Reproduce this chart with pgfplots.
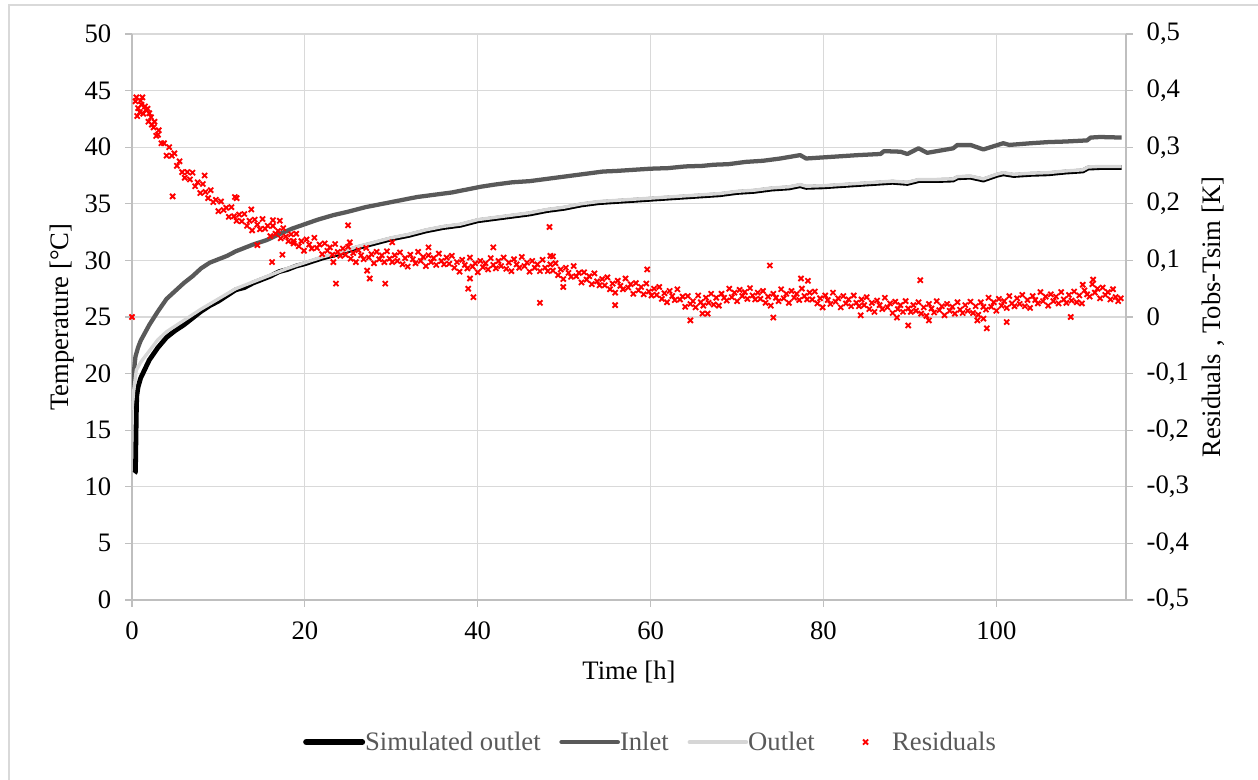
\documentclass[border=0pt]{standalone}
\usepackage{fontspec}
\setmainfont{Liberation Serif}
\usepackage{pgfplots}
\pgfplotsset{compat=1.18}
\definecolor{gridc}{HTML}{D9D9D9}
\definecolor{axc}{HTML}{BFBFBF}
\definecolor{inletc}{HTML}{595959}
\definecolor{outletc}{HTML}{D6D6D6}
\definecolor{legtext}{HTML}{595959}
\newcommand{\fs}{\fontsize{20}{23}\selectfont}
\pgfplotsset{
  linelegend/.style={legend image code/.code={\draw[##1, line cap=round] (0pt,0pt) -- (42pt,0pt);}},
  marklegend/.style={legend image code/.code={\path[draw=none, fill=none] (0pt,-1pt) rectangle (44pt,1pt);\draw[##1] plot coordinates {(24pt,0pt)};}},
}
\begin{document}
\begin{tikzpicture}
\useasboundingbox (-99pt,-135pt) rectangle (844.5pt,450pt);
\draw[gridc, line width=1pt] (-92.25pt,-135pt) -- (-92.25pt,446.25pt) -- (844.5pt,446.25pt);
\begin{axis}[at={(0,0)}, anchor=south west, scale only axis,
  width=745.5pt, height=424.5pt,
  xmin=0, xmax=115, ymin=0, ymax=50,
  xtick={0,20,40,60,80,100}, ytick={0,5,10,15,20,25,30,35,40,45,50},
  axis x line*=bottom, axis y line*=left,
  axis line style={axc, line width=0.9pt, -},
  tick align=outside, major tick length=5pt,
  tick style={axc, line width=0.9pt},
  grid=major, major grid style={gridc, line width=0.9pt},
  tick label style={font=\fs},
  xticklabel style={yshift=-8pt},
  yticklabel style={xshift=-7pt},
  /pgf/number format/assume math mode=true,
  label style={font=\fs},
  xlabel={Time [h]}, ylabel={Temperature [°C]},
  xlabel style={at={(axis description cs:0.5,-0.128)}, anchor=center},
  ylabel style={at={(axis description cs:-0.0704,0.5)}, anchor=center},
]
\addplot[black, line width=3.6pt, line join=round] table {
0.30 11.2
0.40 11.3
0.50 16.5
0.55 18.0
0.70 18.8
1.0 19.6
1.5 20.4
2.0 21.2
3.0 22.3
4.0 23.2
5.0 23.8
6.0 24.3
7.0 24.9
8.0 25.5
9.0 26.0
10.0 26.4
11.0 26.9
12.0 27.4
13.0 27.6
14.0 28.0
15.0 28.3
16.0 28.6
17.0 29.0
18.0 29.2
19.0 29.5
20.0 29.7
22.0 30.2
24.0 30.6
26.0 31.1
28.0 31.5
30.0 31.9
32.0 32.2
34.0 32.6
36.0 32.9
38.0 33.1
40.0 33.5
42.0 33.7
44.0 33.9
46.0 34.1
48.0 34.4
50.0 34.6
52.0 34.9
54.0 35.1
56.0 35.2
58.0 35.3
60.0 35.4
62.0 35.5
64.0 35.6
66.0 35.7
68.0 35.8
70.0 36.0
72.0 36.1
74.0 36.3
76.0 36.4
77.3 36.6
78.0 36.45
80.0 36.5
82.0 36.6
84.0 36.7
86.0 36.8
88.0 36.9
89.7 36.8
91.0 37.05
93.0 37.05
95.0 37.1
95.5 37.3
97.0 37.35
98.5 37.1
100.0 37.5
100.8 37.65
102.0 37.5
104.0 37.6
106.0 37.65
108.0 37.8
110.0 37.9
110.6 38.15
112.0 38.2
114.5 38.2
};
\addplot[inletc, line width=3.2pt, line join=round] table {
0.0 17.6
0.2 20.0
0.4 21.5
0.7 22.3
1.0 22.9
1.5 23.6
2.0 24.3
3.0 25.5
4.0 26.6
5.0 27.3
6.0 28.0
7.0 28.6
8.0 29.3
9.0 29.8
10.0 30.1
11.0 30.4
12.0 30.8
13.0 31.1
14.0 31.4
15.6 31.8
17.0 32.3
18.5 32.8
20.0 33.2
21.5 33.6
23.3 34.0
25.0 34.3
27.0 34.7
29.0 35.0
31.0 35.3
33.0 35.6
35.0 35.8
37.0 36.0
39.0 36.3
40.3 36.5
42.0 36.7
44.0 36.9
46.0 37.0
48.0 37.2
50.0 37.4
52.0 37.6
54.5 37.85
56.0 37.9
58.0 38.0
60.0 38.1
62.0 38.15
64.0 38.3
66.0 38.35
67.3 38.45
69.0 38.5
71.0 38.7
73.0 38.8
75.0 39.0
77.3 39.3
78.0 39.0
80.0 39.1
82.0 39.2
84.0 39.3
86.6 39.4
87.0 39.65
88.9 39.6
89.7 39.4
91.0 39.9
92.0 39.5
95.0 39.9
95.5 40.2
97.0 40.2
98.5 39.8
100.8 40.35
101.5 40.2
104.0 40.35
106.0 40.45
108.0 40.5
110.5 40.6
110.9 40.85
112.0 40.9
114.5 40.85
};
\addplot[outletc, line width=2.5pt, line join=round] table {
0.0 16.8
0.2 18.5
0.5 20.3
1.0 21.0
2.0 22.0
3.0 23.0
4.0 23.7
5.0 24.2
6.0 24.7
7.0 25.2
8.0 25.7
10.0 26.6
12.0 27.5
14.0 28.1
16.0 28.7
18.0 29.3
20.0 29.8
22.0 30.3
24.0 30.7
26.0 31.2
28.0 31.6
30.0 32.0
32.0 32.3
34.0 32.7
36.0 33.0
38.0 33.2
40.0 33.6
42.0 33.8
44.0 34.0
46.0 34.2
48.0 34.5
50.0 34.7
52.0 35.0
54.0 35.2
56.0 35.3
58.0 35.4
60.0 35.5
62.0 35.6
64.0 35.7
66.0 35.8
68.0 35.9
70.0 36.1
72.0 36.2
74.0 36.4
76.0 36.5
77.3 36.7
78.0 36.55
80.0 36.6
82.0 36.7
84.0 36.8
86.0 36.9
88.0 37.0
89.7 36.9
91.0 37.15
93.0 37.15
95.0 37.2
95.5 37.4
97.0 37.45
98.5 37.2
100.0 37.6
100.8 37.75
102.0 37.6
104.0 37.7
106.0 37.75
108.0 37.9
110.0 38.0
110.6 38.25
112.0 38.3
114.5 38.3
};
\end{axis}
\begin{axis}[at={(0,0)}, anchor=south west, scale only axis,
  width=745.5pt, height=424.5pt,
  xmin=0, xmax=115, ymin=-0.5, ymax=0.5,
  axis x line=none, axis y line*=right,
  axis line style={axc, line width=0.9pt, -},
  tick align=outside, major tick length=5pt,
  tick style={axc, line width=0.9pt},
  ytick={-0.5,-0.4,-0.3,-0.2,-0.1,0,0.1,0.2,0.3,0.4,0.5},
  scaled y ticks=false,
  yticklabel style={xshift=7pt, /pgf/number format/.cd, fixed, precision=1, use comma, assume math mode=true},
  tick label style={font=\fs},
  label style={font=\fs},
  ylabel={Residuals , Tobs-Tsim [K]},
  ylabel style={at={(axis description cs:1.0875,0.5)}, anchor=center},
  legend columns=4,
  legend style={at={(0.522,-0.251)}, anchor=center, draw=none, fill=none,
    font=\fs\color{legtext}, /tikz/every even column/.append style={column sep=12pt},
    /tikz/every odd column/.append style={column sep=-2pt}},
  linelegend,
]
\addlegendimage{black, line width=4.5pt}
\addlegendentry{Simulated outlet}
\addlegendimage{inletc, line width=3.5pt}
\addlegendentry{Inlet}
\addlegendimage{outletc, line width=3.5pt}
\addlegendentry{Outlet}
\addplot[only marks, mark=x, mark size=2.7pt, red, line width=1.4pt, marklegend] table {
0.4 0.381
0.7 0.369
1.0 0.382
1.3 0.359
1.6 0.366
1.9 0.345
2.2 0.353
2.5 0.335
2.8 0.320
3.1 0.330
3.4 0.307
3.7 0.307
4.0 0.285
4.3 0.300
4.6 0.285
4.9 0.289
5.2 0.267
5.5 0.275
5.8 0.256
6.1 0.246
6.4 0.256
6.7 0.243
7.0 0.255
7.3 0.231
7.6 0.238
7.9 0.219
8.2 0.235
8.5 0.221
8.8 0.210
9.1 0.224
9.4 0.203
9.7 0.207
10.0 0.187
10.3 0.204
10.6 0.189
10.9 0.193
11.2 0.177
11.5 0.194
11.8 0.178
12.1 0.170
12.4 0.181
12.7 0.169
13.0 0.182
13.3 0.161
13.6 0.170
13.9 0.153
14.2 0.172
14.5 0.163
14.8 0.155
15.1 0.173
15.4 0.156
15.7 0.161
16.0 0.143
16.3 0.161
16.6 0.147
16.9 0.152
17.2 0.139
17.5 0.157
17.8 0.142
18.1 0.134
18.4 0.146
18.7 0.134
19.0 0.147
19.3 0.125
19.6 0.134
19.9 0.117
20.2 0.137
20.5 0.128
20.8 0.121
21.1 0.140
21.4 0.122
21.7 0.128
22.0 0.111
22.3 0.130
22.6 0.117
22.9 0.123
23.2 0.110
23.5 0.129
23.8 0.115
24.1 0.108
24.4 0.121
24.7 0.110
25.0 0.124
25.3 0.103
25.6 0.113
25.9 0.097
26.2 0.118
26.5 0.109
26.8 0.102
27.1 0.122
27.4 0.105
27.7 0.111
28.0 0.095
28.3 0.115
28.6 0.102
28.9 0.109
29.2 0.097
29.5 0.116
29.8 0.103
30.1 0.097
30.4 0.109
30.7 0.099
31.0 0.114
31.3 0.093
31.6 0.104
31.9 0.089
32.2 0.110
32.5 0.102
32.8 0.095
33.1 0.115
33.4 0.099
33.7 0.106
34.0 0.090
34.3 0.109
34.6 0.097
34.9 0.104
35.2 0.092
35.5 0.112
35.8 0.099
36.1 0.093
36.4 0.105
36.7 0.094
37.0 0.108
37.3 0.087
37.6 0.097
37.9 0.080
38.2 0.101
38.5 0.092
38.8 0.086
39.1 0.105
39.4 0.089
39.7 0.095
40.0 0.079
40.3 0.099
40.6 0.088
40.9 0.095
41.2 0.084
41.5 0.104
41.8 0.092
42.1 0.086
42.4 0.099
42.7 0.090
43.0 0.105
43.3 0.085
43.6 0.096
43.9 0.081
44.2 0.102
44.5 0.093
44.8 0.087
45.1 0.106
45.4 0.090
45.7 0.096
46.0 0.080
46.3 0.099
46.6 0.087
46.9 0.093
47.2 0.081
47.5 0.101
47.8 0.087
48.1 0.081
48.4 0.093
48.7 0.082
49.0 0.095
49.3 0.074
49.6 0.084
49.9 0.067
50.2 0.087
50.5 0.078
50.8 0.071
51.1 0.090
51.4 0.072
51.7 0.078
52.0 0.061
52.3 0.079
52.6 0.066
52.9 0.072
53.2 0.058
53.5 0.077
53.8 0.063
54.1 0.056
54.4 0.067
54.7 0.056
55.0 0.070
55.3 0.049
55.6 0.059
55.9 0.043
56.2 0.064
56.5 0.055
56.8 0.049
57.1 0.068
57.4 0.052
57.7 0.058
58.0 0.041
58.3 0.060
58.6 0.047
58.9 0.053
59.2 0.040
59.5 0.059
59.8 0.045
60.1 0.038
60.4 0.050
60.7 0.039
61.0 0.053
61.3 0.032
61.6 0.042
61.9 0.026
62.2 0.046
62.5 0.037
62.8 0.030
63.1 0.049
63.4 0.031
63.7 0.036
64.0 0.018
64.3 0.037
64.6 0.023
64.9 0.028
65.2 0.017
65.5 0.038
65.8 0.026
66.1 0.020
66.4 0.034
66.7 0.025
67.0 0.041
67.3 0.022
67.6 0.034
67.9 0.020
68.2 0.041
68.5 0.034
68.8 0.029
69.1 0.050
69.4 0.035
69.7 0.043
70.0 0.028
70.3 0.048
70.6 0.037
70.9 0.044
71.2 0.032
71.5 0.051
71.8 0.038
72.1 0.031
72.4 0.043
72.7 0.032
73.0 0.046
73.3 0.025
73.6 0.036
73.9 0.020
74.2 0.041
74.5 0.034
74.8 0.028
75.1 0.049
75.4 0.033
75.7 0.041
76.0 0.025
76.3 0.046
76.6 0.034
76.9 0.041
77.2 0.030
77.5 0.050
77.8 0.037
78.1 0.031
78.4 0.043
78.7 0.031
79.0 0.045
79.3 0.024
79.6 0.033
79.9 0.017
80.2 0.038
80.5 0.030
80.8 0.023
81.1 0.043
81.4 0.027
81.7 0.033
82.0 0.017
82.3 0.037
82.6 0.024
82.9 0.031
83.2 0.019
83.5 0.038
83.8 0.025
84.1 0.019
84.4 0.031
84.7 0.021
85.0 0.035
85.3 0.014
85.6 0.025
85.9 0.009
86.2 0.029
86.5 0.021
86.8 0.014
87.1 0.034
87.4 0.017
87.7 0.024
88.0 0.007
88.3 0.027
88.6 0.014
88.9 0.021
89.2 0.009
89.5 0.028
89.8 0.015
90.1 0.009
90.4 0.021
90.7 0.011
91.0 0.026
91.3 0.006
91.6 0.017
91.9 0.002
92.2 0.023
92.5 0.015
92.8 0.008
93.1 0.028
93.4 0.012
93.7 0.019
94.0 0.003
94.3 0.023
94.6 0.011
94.9 0.018
95.2 0.006
95.5 0.026
95.8 0.013
96.1 0.007
96.4 0.021
96.7 0.011
97.0 0.027
97.3 0.007
97.6 0.019
97.9 0.004
98.2 0.026
98.5 0.018
98.8 0.013
99.1 0.034
99.4 0.018
99.7 0.026
100.0 0.011
100.3 0.032
100.6 0.020
100.9 0.028
101.2 0.016
101.5 0.037
101.8 0.024
102.1 0.019
102.4 0.033
102.7 0.023
103.0 0.039
103.3 0.019
103.6 0.030
103.9 0.016
104.2 0.037
104.5 0.030
104.8 0.024
105.1 0.044
105.4 0.028
105.7 0.036
106.0 0.020
106.3 0.040
106.6 0.028
106.9 0.036
107.2 0.024
107.5 0.044
107.8 0.031
108.1 0.025
108.4 0.039
108.7 0.029
109.0 0.045
109.3 0.026
109.6 0.038
109.9 0.024
110.2 0.047
110.5 0.040
110.8 0.036
111.1 0.058
111.4 0.043
111.7 0.050
112.0 0.033
112.3 0.052
112.6 0.039
112.9 0.044
113.2 0.031
113.5 0.049
113.8 0.035
114.1 0.028
114.4 0.033
0.0 0.000
0.5 0.388
0.6 0.355
0.9 0.362
1.1 0.375
1.2 0.388
1.5 0.372
1.8 0.368
2.0 0.360
2.3 0.340
2.6 0.345
3.0 0.322
4.7 0.213
8.4 0.250
12.1 0.210
13.8 0.190
11.9 0.212
16.3 0.171
17.1 0.170
14.5 0.127
16.2 0.097
17.4 0.110
18.7 0.130
23.3 0.097
23.6 0.059
29.3 0.059
27.2 0.082
27.5 0.068
25.2 0.132
30.1 0.132
25.0 0.162
34.3 0.123
39.1 0.068
39.5 0.035
38.9 0.050
41.8 0.123
47.2 0.025
48.3 0.159
48.4 0.108
48.7 0.107
55.9 0.021
59.6 0.084
49.9 0.053
64.6 -0.006
66.0 0.006
66.6 0.006
73.8 0.091
74.2 -0.001
77.4 0.068
78.2 0.064
84.3 0.003
88.5 -0.001
89.8 -0.015
91.2 0.065
92.2 -0.006
97.8 -0.006
98.5 -0.003
98.9 -0.020
101.2 -0.009
108.6 0.000
111.2 0.066
110.0 0.057
};
\addlegendentry{Residuals}
\end{axis}
\end{tikzpicture}
\end{document}
